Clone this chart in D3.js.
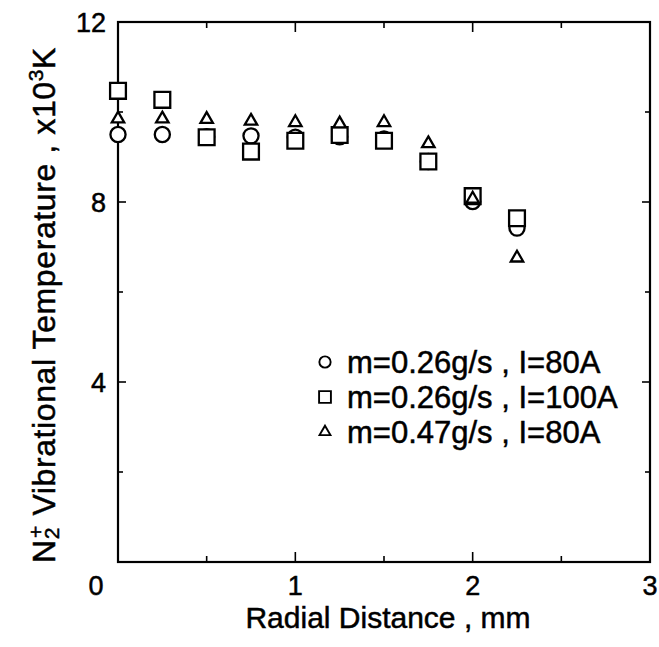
<!DOCTYPE html>
<html>
<head>
<meta charset="utf-8">
<script src="https://cdn.jsdelivr.net/npm/d3@7"></script>
<style>
  body { margin: 0; background: #fff; }
  svg text { font-family: "Liberation Sans", Arial, sans-serif; fill: #000; stroke: #000; stroke-width: 0.5px; }
</style>
</head>
<body>
<svg id="chart" width="659" height="647"></svg>
<script>
// radial positions (mm)
var radial = [0, 0.25, 0.5, 0.75, 1.0, 1.25, 1.5, 1.75, 2.0, 2.25];
// vibrational temperature, x10^3 K
var tempA = [9.5, 9.5, 9.45, 9.47, 9.44, 9.45, 9.4, 8.9, 8.01, 7.42];   // m=0.26g/s, I=80A
var tempB = [10.47, 10.27, 9.44, 9.12, 9.36, 9.49, 9.36, 8.9, 8.13, 7.64]; // m=0.26g/s, I=100A
var tempC = [9.87, 9.87, 9.86, 9.82, 9.79, 9.76, 9.79, 9.32, 8.09, 6.78]; // m=0.47g/s, I=80A
var seriesNames = ["m=0.26g/s , I=80A", "m=0.26g/s , I=100A", "m=0.47g/s , I=80A"];
var seriesShapes = ["circle", "square", "triangle"];
var xTicks = [0, 1, 2, 3];
var yTicks = [4, 8, 12];

var svg = d3.select("#chart");
var pL = 118, pR = 650, pT = 22, pB = 562;

var x = d3.scaleLinear().domain([0, 3]).range([pL, pR]);
var y = d3.scaleLinear().domain([0, 12]).range([pB, pT]);

// frame
svg.append("rect")
  .attr("x", pL).attr("y", pT)
  .attr("width", pR - pL).attr("height", pB - pT)
  .attr("fill", "none").attr("stroke", "#000").attr("stroke-width", 2.2);

// inward ticks
d3.range(0.5, 3, 0.5).forEach(function (v) {
  var len = (v % 1 === 0) ? 10 : 6;
  svg.append("line").attr("x1", x(v)).attr("x2", x(v))
    .attr("y1", pB).attr("y2", pB - len)
    .attr("stroke", "#000").attr("stroke-width", 1.6);
  svg.append("line").attr("x1", x(v)).attr("x2", x(v))
    .attr("y1", pT).attr("y2", pT + len)
    .attr("stroke", "#000").attr("stroke-width", 1.6);
});
d3.range(2, 12, 2).forEach(function (v) {
  var len = (v % 4 === 0) ? 8 : 5;
  svg.append("line").attr("x1", pL).attr("x2", pL + len)
    .attr("y1", y(v)).attr("y2", y(v))
    .attr("stroke", "#000").attr("stroke-width", 1.6);
  svg.append("line").attr("x1", pR).attr("x2", pR - len)
    .attr("y1", y(v)).attr("y2", y(v))
    .attr("stroke", "#000").attr("stroke-width", 1.6);
});

// tick labels
svg.selectAll(".xl").data(xTicks).enter().append("text")
  .attr("x", function (d) { return d === 0 ? x(d) - 22 : x(d); })
  .attr("y", 595)
  .attr("text-anchor", "middle")
  .attr("font-size", 27)
  .text(function (d) { return d; });

svg.selectAll(".yl").data(yTicks).enter().append("text")
  .attr("x", 106)
  .attr("y", function (d) { return y(d) + 10; })
  .attr("text-anchor", "end")
  .attr("font-size", 27)
  .text(function (d) { return d; });

// axis titles
svg.append("text")
  .attr("x", 388).attr("y", 628)
  .attr("text-anchor", "middle")
  .attr("font-size", 30)
  .text("Radial Distance , mm");

var yt = svg.append("text")
  .attr("transform", "translate(55," + 305 + ") rotate(-90)")
  .attr("text-anchor", "middle")
  .attr("font-size", 32)
  .attr("letter-spacing", 0.6);
yt.append("tspan").text("N");
yt.append("tspan").attr("font-size", 21).attr("dy", 4).text("2");
yt.append("tspan").attr("font-size", 21).attr("dx", -11).attr("dy", -16).text("+");
yt.append("tspan").attr("dy", 12).text(" Vibrational Temperature , x10");
yt.append("tspan").attr("font-size", 21).attr("dy", -12).text("3");
yt.append("tspan").attr("dy", 12).text("K");

// markers (white fill, later series drawn over earlier ones)
var symbolFor = {
  circle: d3.symbol().type(d3.symbolCircle).size(180),
  square: d3.symbol().type(d3.symbolSquare).size(250),
  triangle: d3.symbol().type(d3.symbolTriangle2 || d3.symbolTriangle).size(110)
};

[tempA, tempB, tempC].forEach(function (vals, i) {
  var shape = seriesShapes[i];
  svg.append("g").selectAll("path").data(vals).enter().append("path")
    .attr("transform", function (d, j) {
      var dy = shape === "triangle" ? 1 : 0;
      return "translate(" + x(radial[j]) + "," + (y(d) + dy) + ")";
    })
    .attr("d", symbolFor[shape]())
    .attr("fill", "#fff")
    .attr("stroke", "#000")
    .attr("stroke-width", 2.3);
});

// legend
var legendSymbol = {
  circle: d3.symbol().type(d3.symbolCircle).size(100),
  square: d3.symbol().type(d3.symbolSquare).size(140),
  triangle: d3.symbol().type(d3.symbolTriangle2 || d3.symbolTriangle).size(85)
};
var lg = svg.append("g");
seriesNames.forEach(function (name, i) {
  var cy = 362 + i * 35;
  lg.append("path")
    .attr("transform", "translate(325," + cy + ")")
    .attr("d", legendSymbol[seriesShapes[i]]())
    .attr("fill", "none").attr("stroke", "#000").attr("stroke-width", 1.9);
  lg.append("text")
    .attr("x", 347).attr("y", cy + 11)
    .attr("font-size", 31)
    .text(name);
});
</script>
</body>
</html>
